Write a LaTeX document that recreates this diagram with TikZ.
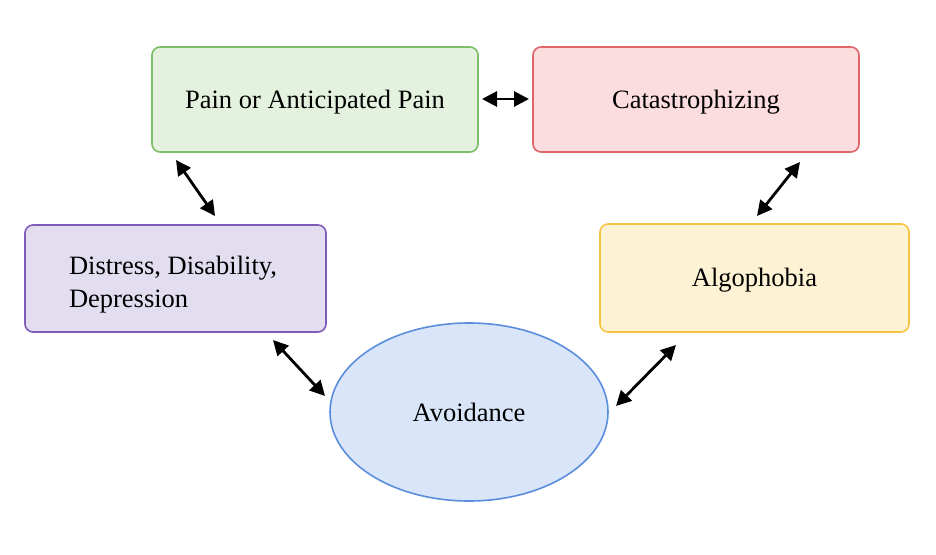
\documentclass[tikz,border=0pt]{standalone}
\usepackage{fontspec}
\setmainfont{Liberation Serif}
\usetikzlibrary{arrows.meta,shapes.geometric}
\definecolor{gfill}{HTML}{E5F1DF}
\definecolor{gdraw}{HTML}{7DBE68}
\definecolor{rfill}{HTML}{FBDCDF}
\definecolor{rdraw}{HTML}{E06468}
\definecolor{pfill}{HTML}{E3DDF0}
\definecolor{pdraw}{HTML}{7F5CB8}
\definecolor{yfill}{HTML}{FEF2D4}
\definecolor{ydraw}{HTML}{F6C443}
\definecolor{bfill}{HTML}{D9E6FA}
\definecolor{bdraw}{HTML}{5A8EDC}
\tikzset{
  box/.style={draw, line width=1.6pt, rounded corners=8pt, inner sep=0pt, font=\fontsize{26.5}{33}\selectfont},
  link/.style={line width=2.8pt, {Triangle[length=15pt,width=15pt]}-{Triangle[length=15pt,width=15pt]}},
}
\begin{document}
\begin{tikzpicture}[x=1pt,y=-1pt]
\useasboundingbox[fill=white] (0,0) rectangle (936,554);
\node[box, fill=gfill, draw=gdraw, minimum width=326pt, minimum height=105pt] (pain) at (315,99.5) {\rule{0pt}{24pt}Pain or Anticipated Pain};
\node[box, fill=rfill, draw=rdraw, minimum width=326pt, minimum height=105pt] (cat) at (696,99.5) {\rule{0pt}{24pt}Catastrophizing};
\node[box, fill=pfill, draw=pdraw, minimum width=301pt, minimum height=107pt] (dis) at (175.5,278.5) {\raisebox{-12pt}[30pt][30pt]{\makebox[213pt][l]{\begin{tabular}{@{}l@{}}Distress, Disability,\\Depression\end{tabular}}}};
\node[box, fill=yfill, draw=ydraw, minimum width=309pt, minimum height=108pt] (alg) at (754.5,278) {\rule{0pt}{22pt}Algophobia};
\node[ellipse, draw=bdraw, fill=bfill, line width=1.6pt, minimum width=278pt, minimum height=178pt, inner sep=0pt, font=\fontsize{26.5}{33}\selectfont] (avo) at (469,412) {Avoidance};
\coordinate (a1) at (482,99);  \coordinate (a2) at (529,99);
\coordinate (b1) at (176,160); \coordinate (b2) at (215,216);
\coordinate (c1) at (800,162); \coordinate (c2) at (757,216);
\coordinate (d1) at (273,340); \coordinate (d2) at (325,396);
\coordinate (e1) at (676,345); \coordinate (e2) at (616,406);
\draw[link] (a1) -- (a2);
\draw[link] (b1) -- (b2);
\draw[link] (c1) -- (c2);
\draw[link] (d1) -- (d2);
\draw[link] (e1) -- (e2);
\end{tikzpicture}
\end{document}
